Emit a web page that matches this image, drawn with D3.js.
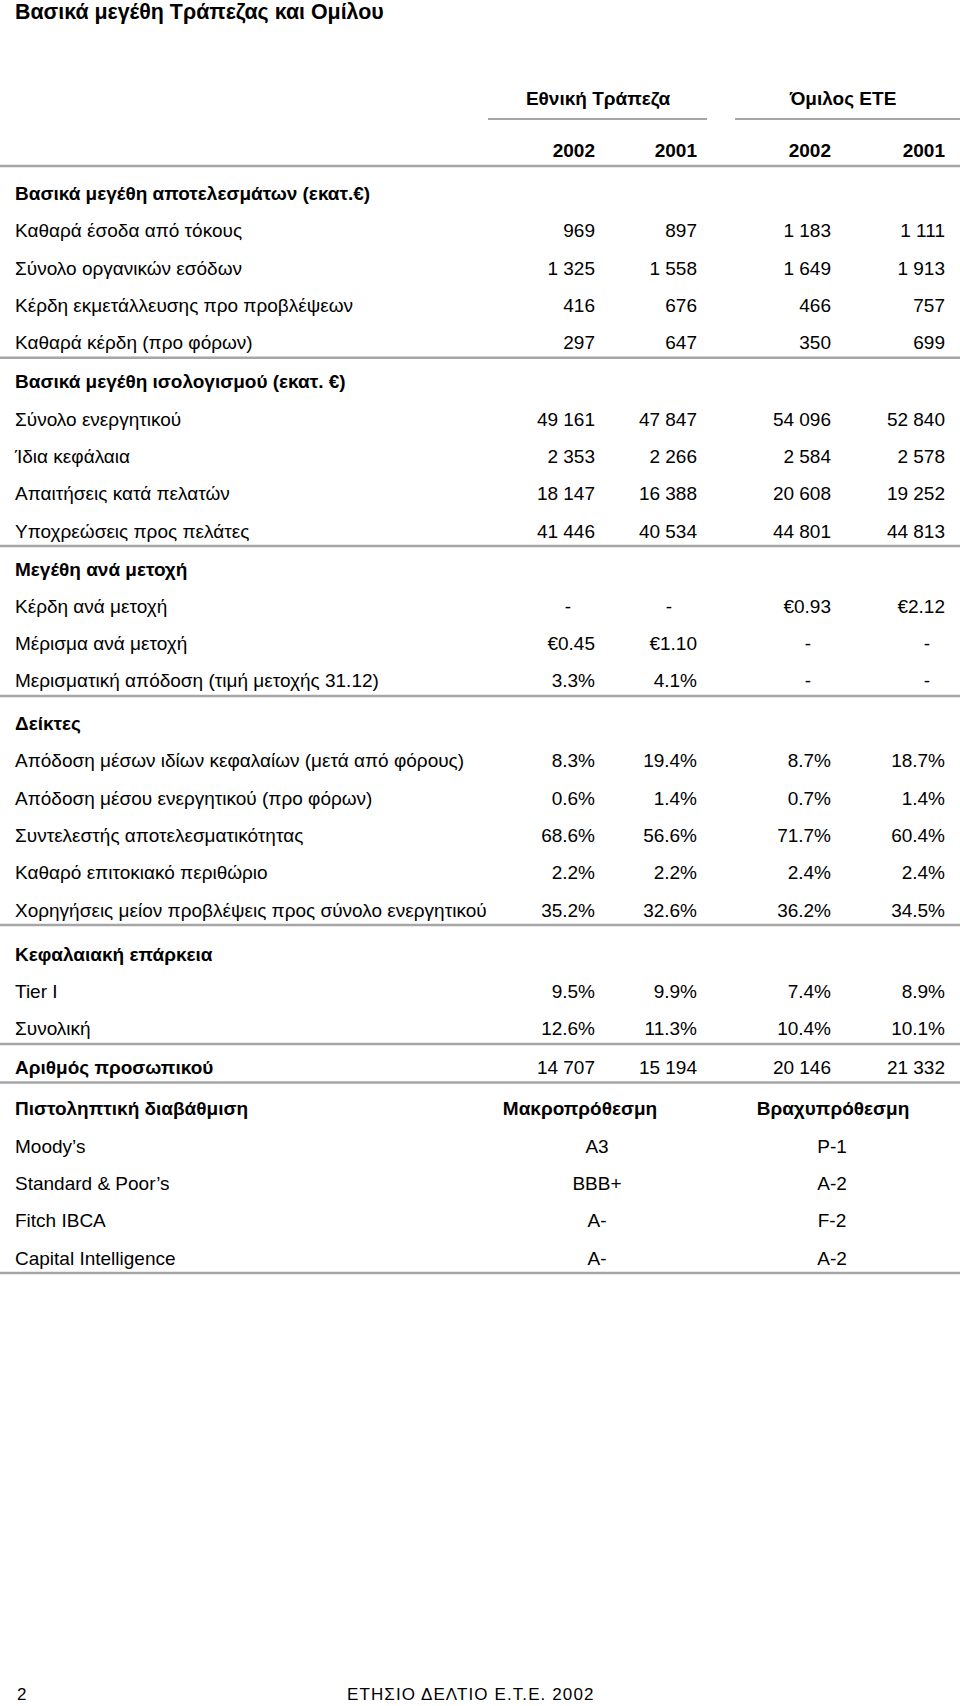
<!DOCTYPE html>
<html>
<head>
<meta charset="utf-8">
<script src="https://cdn.jsdelivr.net/npm/d3@7"></script>
<style>
  body { margin: 0; background: #fff; }
  text { font-family: "Liberation Sans", Arial, sans-serif; fill: #000; }
</style>
</head>
<body>
<svg id="chart"></svg>
<script>
const width = 960;
const height = 1706;

const title = "Βασικά μεγέθη Τράπεζας και Ομίλου";
const groups = ["Εθνική Τράπεζα", "Όμιλος ΕΤΕ"];
const years = ["2002", "2001", "2002", "2001"];

// financial rows; headers have no values
const rowLabels = [
    "Βασικά μεγέθη αποτελεσμάτων (εκατ.€)",
    "Καθαρά έσοδα από τόκους",
    "Σύνολο οργανικών εσόδων",
    "Κέρδη εκμετάλλευσης προ προβλέψεων",
    "Καθαρά κέρδη (προ φόρων)",
    "Βασικά μεγέθη ισολογισμού (εκατ. €)",
    "Σύνολο ενεργητικού",
    "Ίδια κεφάλαια",
    "Απαιτήσεις κατά πελατών",
    "Υποχρεώσεις προς πελάτες",
    "Μεγέθη ανά μετοχή",
    "Κέρδη ανά μετοχή",
    "Μέρισμα ανά μετοχή",
    "Μερισματική απόδοση (τιμή μετοχής 31.12)",
    "Δείκτες",
    "Απόδοση μέσων ιδίων κεφαλαίων (μετά από φόρους)",
    "Απόδοση μέσου ενεργητικού (προ φόρων)",
    "Συντελεστής αποτελεσματικότητας",
    "Καθαρό επιτοκιακό περιθώριο",
    "Χορηγήσεις μείον προβλέψεις προς σύνολο ενεργητικού",
    "Κεφαλαιακή επάρκεια",
    "Tier I",
    "Συνολική",
    "Αριθμός προσωπικού"
];
const headerRows = [0, 5, 10, 14, 20, 23];
const rowFormats = ["", "int", "int", "int", "int", "", "int", "int", "int", "int",
    "", "eur", "eur", "pct", "", "pct", "pct", "pct", "pct", "pct", "", "pct", "pct", "int"];

const bank2002 = [null, 969, 1325, 416, 297, null, 49161, 2353, 18147, 41446,
    null, null, 0.45, 3.3, null, 8.3, 0.6, 68.6, 2.2, 35.2, null, 9.5, 12.6, 14707];
const bank2001 = [null, 897, 1558, 676, 647, null, 47847, 2266, 16388, 40534,
    null, null, 1.10, 4.1, null, 19.4, 1.4, 56.6, 2.2, 32.6, null, 9.9, 11.3, 15194];
const group2002 = [null, 1183, 1649, 466, 350, null, 54096, 2584, 20608, 44801,
    null, 0.93, null, null, null, 8.7, 0.7, 71.7, 2.4, 36.2, null, 7.4, 10.4, 20146];
const group2001 = [null, 1111, 1913, 757, 699, null, 52840, 2578, 19252, 44813,
    null, 2.12, null, null, null, 18.7, 1.4, 60.4, 2.4, 34.5, null, 8.9, 10.1, 21332];

const ratingTitle = "Πιστοληπτική διαβάθμιση";
const ratingTerms = ["Μακροπρόθεσμη", "Βραχυπρόθεσμη"];
const agencies = ["Moody’s", "Standard & Poor’s", "Fitch IBCA", "Capital Intelligence"];
const longTerm = ["A3", "BBB+", "A-", "A-"];
const shortTerm = ["P-1", "A-2", "F-2", "A-2"];

const footerPage = "2";
const footerText = "ΕΤΗΣΙΟ ΔΕΛΤΙΟ Ε.Τ.Ε. 2002";

// rows after which a rule is drawn (index in the combined row list)
const rulesAfter = [4, 9, 13, 19, 22, 23, 28];
const ruleGaps = [1.8, 0.7, 5.4, 6.9, 1.3, 4.1, 0];

const svg = d3.select('#chart').attr('width', width).attr('height', height);
svg.append('rect').attr('width', width).attr('height', height).attr('fill', '#fff');

const step = 37.3;
// y position of each row index, with extra space after each rule
const y = i => 193 + i * step + d3.sum(rulesAfter, (r, k) => r < i ? ruleGaps[k] : 0);

const colX = d3.scaleOrdinal().domain([0, 1, 2, 3]).range([595, 697, 831, 945]);
const dashX = d3.scaleOrdinal().domain([0, 1, 2, 3]).range([568, 669, 808, 927]);
const groupX = d3.scaleOrdinal().domain([0, 1]).range([598, 843]);
const rateX = d3.scaleOrdinal().domain([0, 1]).range([597, 832]);
const rateHeadX = d3.scaleOrdinal().domain([0, 1]).range([580, 833]);
const labelX = 15;
const fs = 19;
const base = 7;
const ruleColor = '#a6a6a6';

const fmtInt = v => d3.format(",")(v).replace(/,/g, " ");
const fmt = (v, f) => f === "int" ? fmtInt(v) : f === "eur" ? "€" + d3.format(".2f")(v) : d3.format(".1f")(v) + "%";

// title
svg.append('text').attr('x', labelX).attr('y', 19)
    .style('font-size', '21.4px').style('font-weight', 'bold').text(title);

// group headers and their underlines
svg.selectAll('.grp').data(groups).enter().append('text')
    .attr('x', (d, i) => groupX(i)).attr('y', 98 + base)
    .attr('text-anchor', 'middle').style('font-size', fs + 'px').style('font-weight', 'bold')
    .text(d => d);
svg.selectAll('.grpline').data([[488, 707], [735, 960]]).enter().append('line')
    .attr('x1', d => d[0]).attr('x2', d => d[1]).attr('y1', 119).attr('y2', 119)
    .attr('stroke', ruleColor).attr('stroke-width', 2);

// years
svg.selectAll('.yr').data(years).enter().append('text')
    .attr('x', (d, i) => colX(i)).attr('y', 150 + base)
    .attr('text-anchor', 'end').style('font-size', fs + 'px').style('font-weight', 'bold')
    .text(d => d);
svg.append('line').attr('x1', 0).attr('x2', width).attr('y1', 166).attr('y2', 166)
    .attr('stroke', ruleColor).attr('stroke-width', 2.5);

// row labels
svg.selectAll('.lbl').data(rowLabels).enter().append('text')
    .attr('x', labelX).attr('y', (d, i) => y(i) + base)
    .style('font-size', fs + 'px')
    .style('font-weight', (d, i) => headerRows.includes(i) ? 'bold' : 'normal')
    .text(d => d);

// values
const series = [bank2002, bank2001, group2002, group2001];
series.forEach((vals, c) => {
    const cells = vals.map((v, i) => ({ v, i })).filter(d => !headerRows.includes(d.i) || d.v != null);
    svg.selectAll('.val' + c).data(cells).enter().append('text')
        .attr('x', d => d.v == null ? dashX(c) : colX(c))
        .attr('y', d => y(d.i) + base)
        .attr('text-anchor', d => d.v == null ? 'middle' : 'end')
        .style('font-size', fs + 'px')
        .text(d => d.v == null ? '-' : fmt(d.v, rowFormats[d.i]));
});

// ratings block
const r0 = rowLabels.length;
svg.append('text').attr('x', labelX).attr('y', y(r0) + base)
    .style('font-size', fs + 'px').style('font-weight', 'bold').text(ratingTitle);
svg.selectAll('.rterm').data(ratingTerms).enter().append('text')
    .attr('x', (d, i) => rateHeadX(i)).attr('y', y(r0) + base)
    .attr('text-anchor', 'middle').style('font-size', fs + 'px').style('font-weight', 'bold')
    .text(d => d);
svg.selectAll('.agency').data(agencies).enter().append('text')
    .attr('x', labelX).attr('y', (d, i) => y(r0 + 1 + i) + base)
    .style('font-size', fs + 'px').text(d => d);
[longTerm, shortTerm].forEach((vals, c) => {
    svg.selectAll('.rate' + c).data(vals).enter().append('text')
        .attr('x', rateX(c)).attr('y', (d, i) => y(r0 + 1 + i) + base)
        .attr('text-anchor', 'middle').style('font-size', fs + 'px').text(d => d);
});

// section rules
svg.selectAll('.rule').data(rulesAfter).enter().append('line')
    .attr('x1', 0).attr('x2', width)
    .attr('y1', d => y(d) + 15.5).attr('y2', d => y(d) + 15.5)
    .attr('stroke', ruleColor).attr('stroke-width', 2.5);

// footer
svg.append('text').attr('x', 17).attr('y', 1700).style('font-size', '17px').text(footerPage);
svg.append('text').attr('x', 347).attr('y', 1700).style('font-size', '17px')
    .style('letter-spacing', '1.1px').text(footerText);
</script>
</body>
</html>
